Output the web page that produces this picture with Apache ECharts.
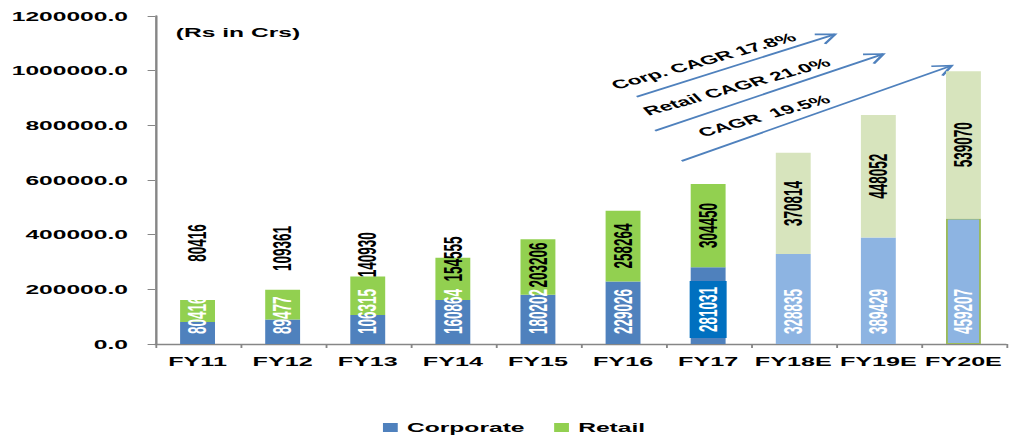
<!DOCTYPE html>
<html>
<head>
<meta charset="utf-8">
<script src="https://cdn.jsdelivr.net/npm/echarts@6/dist/echarts.min.js"></script>
<style>
  html, body { margin: 0; padding: 0; background: #fff; overflow: hidden; }
  #chart { position: absolute; left: 0; top: 0; height: 435px; transform-origin: 0 0; }
</style>
</head>
<body>
<div id="chart"></div>
<script>
// ---- data ----
const categories = ['FY11', 'FY12', 'FY13', 'FY14', 'FY15', 'FY16', 'FY17', 'FY18E', 'FY19E', 'FY20E'];
const corporate = [80416, 89477, 106315, 160864, 180202, 229026, 281031, 328835, 389429, 459207];
const retail = [80416, 109361, 140930, 154555, 203206, 258264, 304450, 370814, 448052, 539070];
const yMin = 0, yMax = 1200000, yStep = 200000;
const unitNote = '(Rs in Crs)';
const cagrNotes = ['Corp. CAGR 17.8%', 'Retail CAGR 21.0%', 'CAGR\u00a0 19.5%'];
const seriesNames = ['Corporate', 'Retail'];
const highlightYear = 'FY17';

// ---- layout / style ----
// The chart is laid out narrow and widened horizontally as a whole.
const STRETCH = 1.85;
const W = 1016 / STRETCH;
const FONT = "'Liberation Sans', Arial, Helvetica, sans-serif";
const C = {
  corp: '#4F81BD', corpEst: '#8DB4E2',
  retail: '#92D050', retailEst: '#D7E4BD',
  box: '#0070C0', axis: '#868686', arrow: '#4F81BD', estEdge: '#9BBB59'
};
// retail labels of the early years sit higher than the segment centre (px, along the text)
const retailLabelLift = { FY11: 68, FY12: 56, FY13: 41, FY14: 20, FY15: 2 };

const el = document.getElementById('chart');
el.style.width = W + 'px';
el.style.transform = 'scaleX(' + STRETCH + ')';

const isEst = c => /E$/.test(c);

const corpData = corporate.map((v, i) => {
  const c = categories[i];
  const item = { value: v, itemStyle: { color: isEst(c) ? C.corpEst : C.corp } };
  if (c === 'FY20E') {
    item.itemStyle.borderColor = C.estEdge;
    item.itemStyle.borderWidth = 1;
  }
  if (c === highlightYear) {
    item.label = { backgroundColor: C.box, padding: [3, 6, 3, 6], distance: 6, lineHeight: 14 };
  }
  return item;
});

const retailData = retail.map((v, i) => {
  const c = categories[i];
  const item = { value: v, itemStyle: { color: isEst(c) ? C.retailEst : C.retail } };
  if (retailLabelLift[c] != null) item.label = { offset: [retailLabelLift[c], 0] };
  return item;
});

// arrows drawn in the chart's own (unwidened) pixel space
const arrowLines = [
  [344.2, 96.7, 451.4, 34.3],
  [354.1, 130.7, 477.5, 54.0],
  [368.5, 161.0, 514.4, 65.7]
];
const notePos = [[380.3, 61], [398.2, 86.7], [412.9, 115.8]];

function arrow(x1, y1, x2, y2) {
  const a = Math.atan2(y2 - y1, x2 - x1);
  const L = 11, spread = Math.PI / 6;
  const w1 = [x2 + L * Math.cos(a + Math.PI - spread), y2 + L * Math.sin(a + Math.PI - spread)];
  const w2 = [x2 + L * Math.cos(a + Math.PI + spread), y2 + L * Math.sin(a + Math.PI + spread)];
  return [
    { type: 'polyline', shape: { points: [[x1, y1], [x2, y2]] }, style: { stroke: C.arrow, lineWidth: 1.6, fill: null } },
    { type: 'polyline', shape: { points: [w1, [x2, y2], w2] }, style: { stroke: C.arrow, lineWidth: 1.6, fill: null } }
  ];
}

const graphics = [];
arrowLines.forEach(l => graphics.push(...arrow(...l)));
cagrNotes.forEach((t, i) => {
  graphics.push({
    type: 'text', x: notePos[i][0], y: notePos[i][1], rotation: 27 * Math.PI / 180,
    style: { text: t, font: 'bold 12.3px ' + FONT, fill: '#000',
      align: 'center', verticalAlign: 'middle', textAlign: 'center', textVerticalAlign: 'middle' }
  });
});
graphics.push({
  type: 'text', x: 95, y: 32,
  style: { text: unitNote, font: 'bold 13.3px ' + FONT, fill: '#000',
    align: 'left', verticalAlign: 'middle', textAlign: 'left', textVerticalAlign: 'middle' }
});

const chart = echarts.init(el, null, { renderer: 'svg', width: W, height: 435 });
chart.setOption({
  animation: false,
  backgroundColor: '#fff',
  textStyle: { fontFamily: FONT },
  grid: { left: 155 / STRETCH, right: W - 1006 / STRETCH, top: 16, bottom: 91, containLabel: false },
  legend: {
    data: seriesNames, left: 207, top: 421, padding: 0, itemGap: 16,
    itemWidth: 8, itemHeight: 9, icon: 'rect',
    textStyle: { fontFamily: FONT, fontSize: 13.3, fontWeight: 'bold', color: '#000' }
  },
  xAxis: {
    type: 'category', data: categories,
    axisLine: { lineStyle: { color: C.axis, width: 1.3 } },
    axisTick: { show: true, length: 4, lineStyle: { color: C.axis, width: 1 } },
    axisLabel: { margin: 10, fontFamily: FONT, fontSize: 13.6, fontWeight: 'bold', color: '#000', interval: 0 }
  },
  yAxis: {
    type: 'value', min: yMin, max: yMax, interval: yStep,
    axisLine: { show: true, lineStyle: { color: C.axis, width: 1.3 } },
    axisTick: { show: true, length: 4, lineStyle: { color: C.axis, width: 1 } },
    splitLine: { show: false },
    axisLabel: { margin: 14.6, fontFamily: FONT, fontSize: 13.3, fontWeight: 'bold', color: '#000',
      formatter: v => v.toFixed(1) }
  },
  series: [
    {
      name: seriesNames[0], type: 'bar', stack: 'total', barWidth: '41%',
      itemStyle: { color: C.corp },
      label: {
        show: true, position: 'insideBottom', distance: 10, rotate: 90,
        align: 'left', verticalAlign: 'middle',
        color: '#fff', fontFamily: FONT, fontSize: 13.5, fontWeight: 'bold'
      },
      data: corpData
    },
    {
      name: seriesNames[1], type: 'bar', stack: 'total', barWidth: '41%',
      itemStyle: { color: C.retail },
      label: {
        show: true, position: 'inside', rotate: 90,
        align: 'center', verticalAlign: 'middle',
        color: '#000', fontFamily: FONT, fontSize: 13.5, fontWeight: 'bold'
      },
      data: retailData
    }
  ],
  graphic: graphics
});
</script>
</body>
</html>
